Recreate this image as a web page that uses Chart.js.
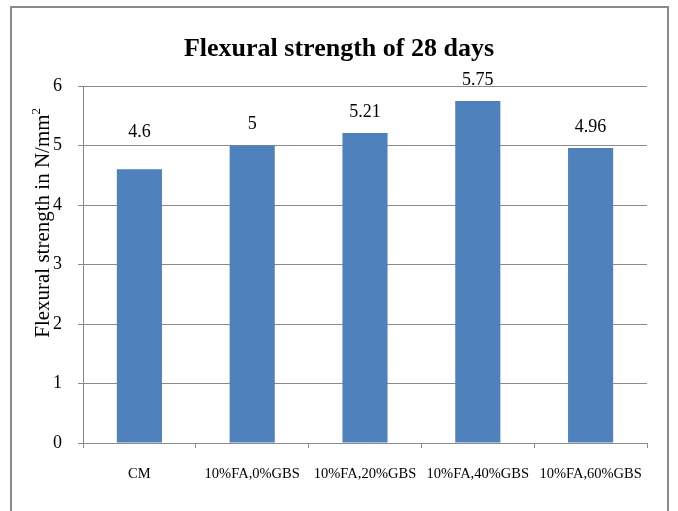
<!DOCTYPE html>
<html>
<head>
<meta charset="utf-8">
<script src="https://cdn.jsdelivr.net/npm/chart.js@4/dist/chart.umd.min.js"></script>
<style>
  html, body { margin: 0; padding: 0; background: #fff; overflow: hidden; }
  #wrap { position: relative; width: 678px; height: 511px; }
  #frame {
    position: absolute; left: 10px; top: 6px; width: 655px; height: 600px;
    border: 2px solid #8a8a8a; pointer-events: none;
  }
</style>
</head>
<body>
<div id="wrap">
  <canvas id="chart" width="678" height="511"></canvas>
  <div id="frame"></div>
</div>
<script>
// Chart data
const categories = ["CM", "10%FA,0%GBS", "10%FA,20%GBS", "10%FA,40%GBS", "10%FA,60%GBS"];
const strengthValues = [4.6, 5, 5.21, 5.75, 4.96];
const yTicks = [0, 1, 2, 3, 4, 5, 6];

const serif = "'Liberation Serif', 'Times New Roman', serif";

// Value labels above the bars (the CM label sits a bit higher in the original)
const extraLift = { 0: 16 };
const valueLabels = {
  id: "valueLabels",
  afterDatasetsDraw(chart) {
    const ctx = chart.ctx;
    const meta = chart.getDatasetMeta(0);
    ctx.save();
    ctx.font = "18px " + serif;
    ctx.fillStyle = "#000";
    ctx.textAlign = "center";
    ctx.textBaseline = "middle";
    meta.data.forEach((bar, i) => {
      ctx.fillText(String(strengthValues[i]), bar.x, bar.y - 21 - (extraLift[i] || 0));
    });
    ctx.restore();
  },
};

// Y axis title, placed like the original (above the middle of the axis)
const yAxisTitle = {
  id: "yAxisTitle",
  afterDraw(chart) {
    const ctx = chart.ctx;
    const y = chart.scales.y;
    ctx.save();
    ctx.translate(43, y.getPixelForValue(3.7));
    ctx.rotate(-Math.PI / 2);
    ctx.font = "21px " + serif;
    ctx.fillStyle = "#000";
    ctx.textBaseline = "middle";
    const main = "Flexural strength in N/mm";
    const w = ctx.measureText(main).width;
    ctx.font = "13px " + serif;
    const supW = ctx.measureText("2").width;
    ctx.textAlign = "left";
    ctx.font = "21px " + serif;
    const start = -(w + supW) / 2;
    ctx.fillText(main, start, 0);
    ctx.font = "13px " + serif;
    ctx.fillText("2", start + w, -6);
    ctx.restore();
  },
};

const ctx = document.getElementById("chart").getContext("2d");
const chart = new Chart(ctx, {
  type: "bar",
  data: {
    labels: categories,
    datasets: [
      {
        data: strengthValues,
        backgroundColor: "#4f81bd",
        barPercentage: 0.4,
        categoryPercentage: 1,
      },
    ],
  },
  options: {
    responsive: false,
    animation: false,
    layout: {
      padding: { left: 31, right: 31, top: 0, bottom: 0 },
    },
    plugins: {
      legend: { display: false },
      tooltip: { enabled: false },
      title: {
        display: true,
        text: "Flexural strength of 28 days",
        color: "#000",
        font: { family: serif, size: 26, weight: "bold" },
        padding: { top: 34, bottom: 20.8 },
      },
    },
    scales: {
      x: {
        afterFit: (scale) => {
          scale.height = 68;
        },
        grid: {
          drawOnChartArea: false,
          drawTicks: true,
          tickLength: 5,
          offset: true,
          color: "#8a8a8a",
        },
        border: { color: "#8a8a8a", width: 1 },
        ticks: {
          color: "#000",
          padding: 17,
          maxRotation: 0,
          autoSkip: false,
          font: { family: serif, size: 14.5 },
        },
      },
      y: {
        min: 0,
        max: 6,
        afterFit: (scale) => {
          scale.width = 52;
        },
        afterBuildTicks: (scale) => {
          scale.ticks = yTicks.map((v) => ({ value: v }));
        },
        grid: {
          color: "#8a8a8a",
          tickLength: 5,
        },
        border: { color: "#8a8a8a", width: 1 },
        ticks: {
          color: "#000",
          padding: 16,
          font: { family: serif, size: 18 },
        },
      },
    },
  },
  plugins: [valueLabels, yAxisTitle],
});
</script>
</body>
</html>
